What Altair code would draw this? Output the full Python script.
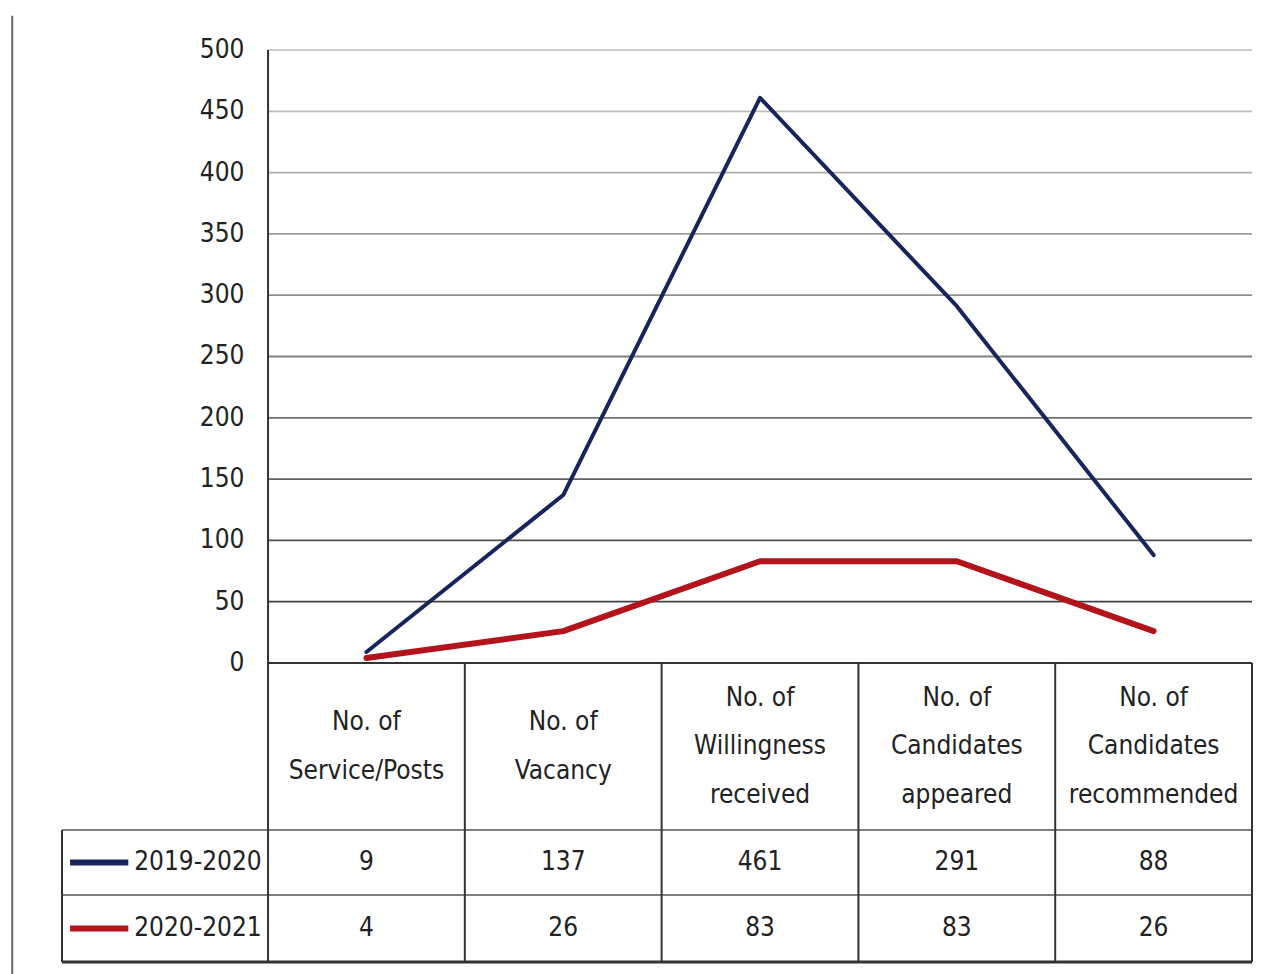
import altair as alt
import pandas as pd

# ---- data ----
categories = [
    ["No. of", "Service/Posts"],
    ["No. of", "Vacancy"],
    ["No. of", "Willingness", "received"],
    ["No. of", "Candidates", "appeared"],
    ["No. of", "Candidates", "recommended"],
]
series_names = ["2019-2020", "2020-2021"]
values_2019_2020 = [9, 137, 461, 291, 88]
values_2020_2021 = [4, 26, 83, 83, 26]
y_ticks = [0, 50, 100, 150, 200, 250, 300, 350, 400, 450, 500]
series_colors = ["#17255a", "#b3141c"]

# table geometry (in chart scale units)
LEG_LEFT = -1.047
HEAD_BOTTOM = -136.2
ROW1_BOTTOM = -189.2
TABLE_BOTTOM = -243.9
ROW_CENTERS = [(HEAD_BOTTOM + ROW1_BOTTOM) / 2, (ROW1_BOTTOM + TABLE_BOTTOM) / 2]
LINE_STEP = 39.6  # header line spacing in scale units

FONT = "DejaVu Sans Condensed"
FS = 26

xs = alt.Scale(domain=[LEG_LEFT, 5], nice=False, zero=False)
ys = alt.Scale(domain=[TABLE_BOTTOM, 500], nice=False, zero=False)

# line data
rows = []
for s, vals in zip(series_names, [values_2019_2020, values_2020_2021]):
    for i, v in enumerate(vals):
        rows.append({"series": s, "pos": i + 0.5, "value": v})
line_df = pd.DataFrame(rows)

color_scale = alt.Scale(domain=series_names, range=series_colors)

# gridlines
grid_df = pd.DataFrame({"y": y_ticks, "x": [0] * len(y_ticks), "x2": [5] * len(y_ticks)})
grid = alt.Chart(grid_df).mark_rule(color="#333", strokeWidth=1.8).encode(
    x=alt.X("x:Q", scale=xs, axis=None),
    x2="x2:Q",
    y=alt.Y("y:Q", scale=ys, axis=None),
    opacity=alt.Opacity("y:Q", scale=alt.Scale(domain=[0, 500], range=[1.0, 0.25]), legend=None),
)

# y tick labels
ylab = alt.Chart(pd.DataFrame({"y": y_ticks, "x": [-0.12] * len(y_ticks)})).mark_text(
    align="right", baseline="middle", font=FONT, fontSize=FS, color="#222"
).encode(x=alt.X("x:Q", scale=xs), y=alt.Y("y:Q", scale=ys), text=alt.Text("y:Q"))

# table lines
h_lines = pd.DataFrame({
    "y": [HEAD_BOTTOM, ROW1_BOTTOM],
    "x": [LEG_LEFT, LEG_LEFT],
    "x2": [5, 5],
})
hrules = alt.Chart(h_lines).mark_rule(color="#555", strokeWidth=1.5).encode(
    x=alt.X("x:Q", scale=xs), x2="x2:Q", y=alt.Y("y:Q", scale=ys)
)
bottom_rule = alt.Chart(pd.DataFrame({"y": [TABLE_BOTTOM], "x": [LEG_LEFT], "x2": [5]})).mark_rule(
    color="#333", strokeWidth=3
).encode(x=alt.X("x:Q", scale=xs), x2="x2:Q", y=alt.Y("y:Q", scale=ys))

v_lines = pd.DataFrame({
    "x": [0, 1, 2, 3, 4, 5, LEG_LEFT],
    "y": [500, 0, 0, 0, 0, 0, HEAD_BOTTOM],
    "y2": [TABLE_BOTTOM] * 7,
})
vrules = alt.Chart(v_lines).mark_rule(color="#333", strokeWidth=2).encode(
    x=alt.X("x:Q", scale=xs), y=alt.Y("y:Q", scale=ys), y2="y2:Q"
)

# page frame line at left (scan border)
frame = alt.Chart(pd.DataFrame({"x": [-1.30], "y": [528], "y2": [-256]})).mark_rule(
    color="#666", strokeWidth=2
).encode(x=alt.X("x:Q", scale=xs), y=alt.Y("y:Q", scale=ys), y2="y2:Q")

# lines
lines = alt.Chart(line_df).mark_line(strokeJoin="round", strokeCap="round").encode(
    x=alt.X("pos:Q", scale=xs),
    y=alt.Y("value:Q", scale=ys),
    color=alt.Color("series:N", scale=color_scale, legend=None),
    size=alt.Size("series:N", scale=alt.Scale(domain=series_names, range=[4, 6]), legend=None),
)

# header texts, one row per line, vertically centred in the header cell
hrows = []
center = HEAD_BOTTOM / 2
for i, lines_ in enumerate(categories):
    n = len(lines_)
    for k, t in enumerate(lines_):
        hrows.append({"pos": i + 0.5, "y": center + ((n - 1) / 2 - k) * LINE_STEP, "t": t})
head_df = pd.DataFrame(hrows)
heads = alt.Chart(head_df).mark_text(
    align="center", baseline="middle", font=FONT, fontSize=FS, color="#222"
).encode(x=alt.X("pos:Q", scale=xs), y=alt.Y("y:Q", scale=ys), text="t:N")

# table values
tv = []
for r, (s, vals) in enumerate(zip(series_names, [values_2019_2020, values_2020_2021])):
    for i, v in enumerate(vals):
        tv.append({"pos": i + 0.5, "y": ROW_CENTERS[r], "v": v})
tv_df = pd.DataFrame(tv)
tvals = alt.Chart(tv_df).mark_text(
    align="center", baseline="middle", font=FONT, fontSize=FS, color="#222"
).encode(x=alt.X("pos:Q", scale=xs), y=alt.Y("y:Q", scale=ys), text="v:Q")

# legend swatches + labels
leg_df = pd.DataFrame({"series": series_names, "y": ROW_CENTERS,
                       "x": [-1.006] * 2, "x2": [-0.71] * 2, "tx": [-0.68] * 2})
swatch = alt.Chart(leg_df).mark_rule(strokeWidth=6).encode(
    x=alt.X("x:Q", scale=xs), x2="x2:Q", y=alt.Y("y:Q", scale=ys),
    color=alt.Color("series:N", scale=color_scale, legend=None),
)
leg_text = alt.Chart(leg_df).mark_text(
    align="left", baseline="middle", font=FONT, fontSize=FS, color="#222"
).encode(x=alt.X("tx:Q", scale=xs), y=alt.Y("y:Q", scale=ys), text="series:N")

chart = alt.layer(
    grid, hrules, vrules, bottom_rule, frame, ylab, heads, tvals, swatch, leg_text, lines
).properties(
    width=1190, height=912,
    padding={"left": 54, "top": 42, "right": 12, "bottom": 12},
    autosize=alt.AutoSizeParams(type="none"),
    background="white",
).configure_view(stroke=None)

chart.save("out.html", embed_options={"renderer": "svg", "actions": False})
